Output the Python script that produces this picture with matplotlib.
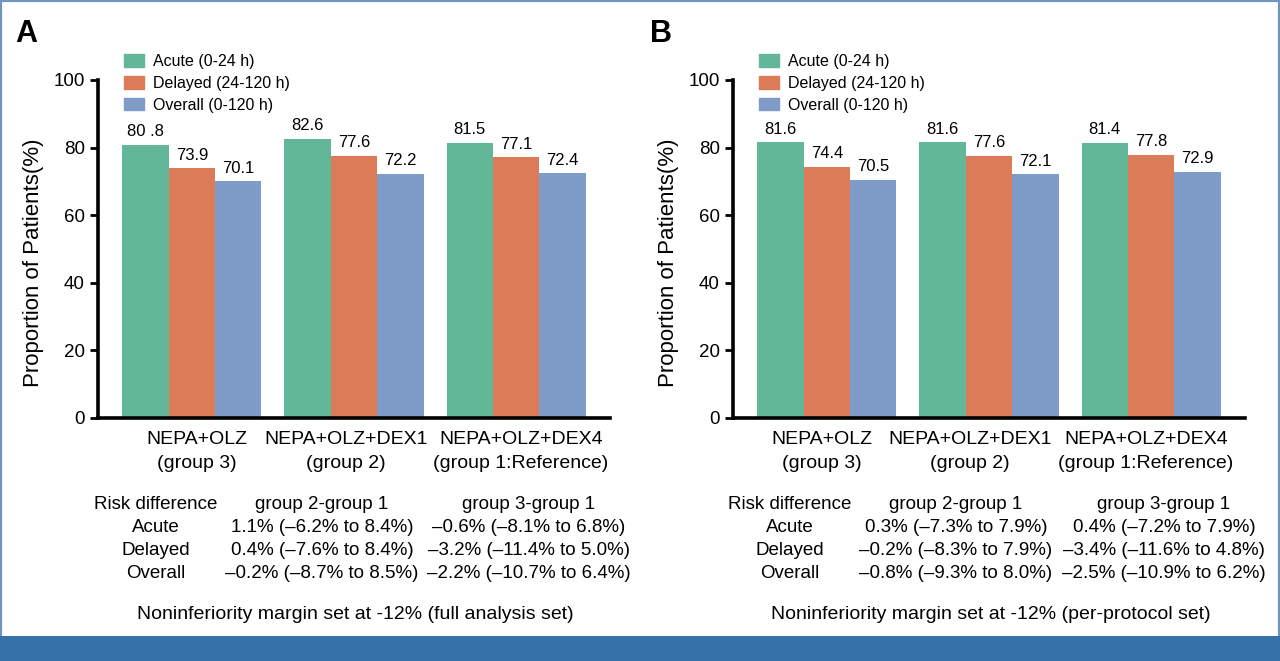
import matplotlib
matplotlib.use("Agg")
import matplotlib.pyplot as plt
from matplotlib.patches import Rectangle, Patch
from matplotlib.transforms import ScaledTranslation
import numpy as np

plt.rcParams["font.family"] = ["Liberation Sans", "DejaVu Sans"]

groups = ["NEPA+OLZ\n(group 3)", "NEPA+OLZ+DEX1\n(group 2)", "NEPA+OLZ+DEX4\n(group 1:Reference)"]
series = ["Acute (0-24 h)", "Delayed (24-120 h)", "Overall (0-120 h)"]
colors = ["#62b799", "#dc7b57", "#7f9bc7"]

# rows = series (acute, delayed, overall), columns = groups
fas_values = [[80.8, 82.6, 81.5], [73.9, 77.6, 77.1], [70.1, 72.2, 72.4]]
pps_values = [[81.6, 81.6, 81.4], [74.4, 77.6, 77.8], [70.5, 72.1, 72.9]]
fas_labels = [["80 .8", "82.6", "81.5"], ["73.9", "77.6", "77.1"], ["70.1", "72.2", "72.4"]]
pps_labels = [["81.6", "81.6", "81.4"], ["74.4", "77.6", "77.8"], ["70.5", "72.1", "72.9"]]

row_names = ["Risk difference", "Acute", "Delayed", "Overall"]
fas_g2 = ["group 2-group 1", "1.1% (\u20136.2% to 8.4%)", "0.4% (\u20137.6% to 8.4%)", "\u20130.2% (\u20138.7% to 8.5%)"]
fas_g3 = ["group 3-group 1", "\u20130.6% (\u20138.1% to 6.8%)", "\u20133.2% (\u201311.4% to 5.0%)", "\u20132.2% (\u201310.7% to 6.4%)"]
pps_g2 = ["group 2-group 1", "0.3% (\u20137.3% to 7.9%)", "\u20130.2% (\u20138.3% to 7.9%)", "\u20130.8% (\u20139.3% to 8.0%)"]
pps_g3 = ["group 3-group 1", "0.4% (\u20137.2% to 7.9%)", "\u20133.4% (\u201311.6% to 4.8%)", "\u20132.5% (\u201310.9% to 6.2%)"]
fas_note = "Noninferiority margin set at -12% (full analysis set)"
pps_note = "Noninferiority margin set at -12% (per-protocol set)"

W, H = 1280, 661
fig = plt.figure(figsize=(W / 100, H / 100), dpi=100)


def px(x, y):
    return x / W, 1 - y / H


def panel(left_px, letter, values, labels, tick_dx, cols, g2, g3, note):
    ax = fig.add_axes([left_px / W, 1 - 418 / H, 512 / W, 338 / H])
    x = np.arange(len(groups))
    width = 0.286
    for i, (name, col) in enumerate(zip(series, colors)):
        bars = ax.bar(x + (i - 1) * width, values[i], width, color=col, label=name)
        ax.bar_label(bars, labels=labels[i], padding=4, fontsize=12)
    ax.set_xlim(-0.58, 2.58)
    ax.set_ylim(0, 100)
    ax.set_yticks([0, 20, 40, 60, 80, 100])
    ax.tick_params(axis="y", labelsize=13.5, width=2, length=6)
    ax.set_xticks(x, groups, fontsize=14, linespacing=1.55)
    ax.tick_params(axis="x", length=0, pad=9)
    for lab, dx in zip(ax.get_xticklabels(), tick_dx):
        lab.set_transform(lab.get_transform() + ScaledTranslation(dx / 100, 0, fig.dpi_scale_trans))
    for s in ["top", "right"]:
        ax.spines[s].set_visible(False)
    for s in ["left", "bottom"]:
        ax.spines[s].set_linewidth(2.6)
    ax.set_ylabel("Proportion of Patients(%)", fontsize=16)
    ax.yaxis.set_label_coords(-0.106, 0.46)
    handles = [Patch(color=c) for c in colors]
    ax.legend(handles, series, loc="upper left", bbox_to_anchor=(0.035, 1.10),
              frameon=False, fontsize=11.5, handlelength=1.25, handleheight=0.85,
              handletextpad=0.55, labelspacing=0.42, borderpad=0)
    lx, ly = px(left_px - 83, 34)
    fig.text(lx, ly, letter, fontsize=22, fontweight="bold", va="center")

    rows_y = [509, 532, 555, 578]
    for j, ry in enumerate(rows_y):
        for cx, txt in zip(cols, [row_names[j], g2[j], g3[j]]):
            fx, fy = px(cx, ry)
            fig.text(fx, fy, txt, fontsize=13.5, ha="center", va="baseline")
    fx, fy = px(cols[3], 619)
    fig.text(fx, fy, note, fontsize=14, ha="center", va="baseline")
    return ax


panel(98, "A", fas_values, fas_labels, [5, -8, 5], [156, 322, 529, 355], fas_g2, fas_g3, fas_note)
panel(733, "B", pps_values, pps_labels, [-5, -19, -5], [790, 956, 1164, 991], pps_g2, pps_g3, pps_note)

# frame and footer band
fig.patches.append(Rectangle((0, 0), 1, 1, transform=fig.transFigure, fill=False,
                             edgecolor="#6e95c2", linewidth=3))
fig.patches.append(Rectangle((0, 0), 1, 25 / H, transform=fig.transFigure,
                             facecolor="#3572a9", edgecolor="none"))

fig.savefig("out.png", dpi=100)
